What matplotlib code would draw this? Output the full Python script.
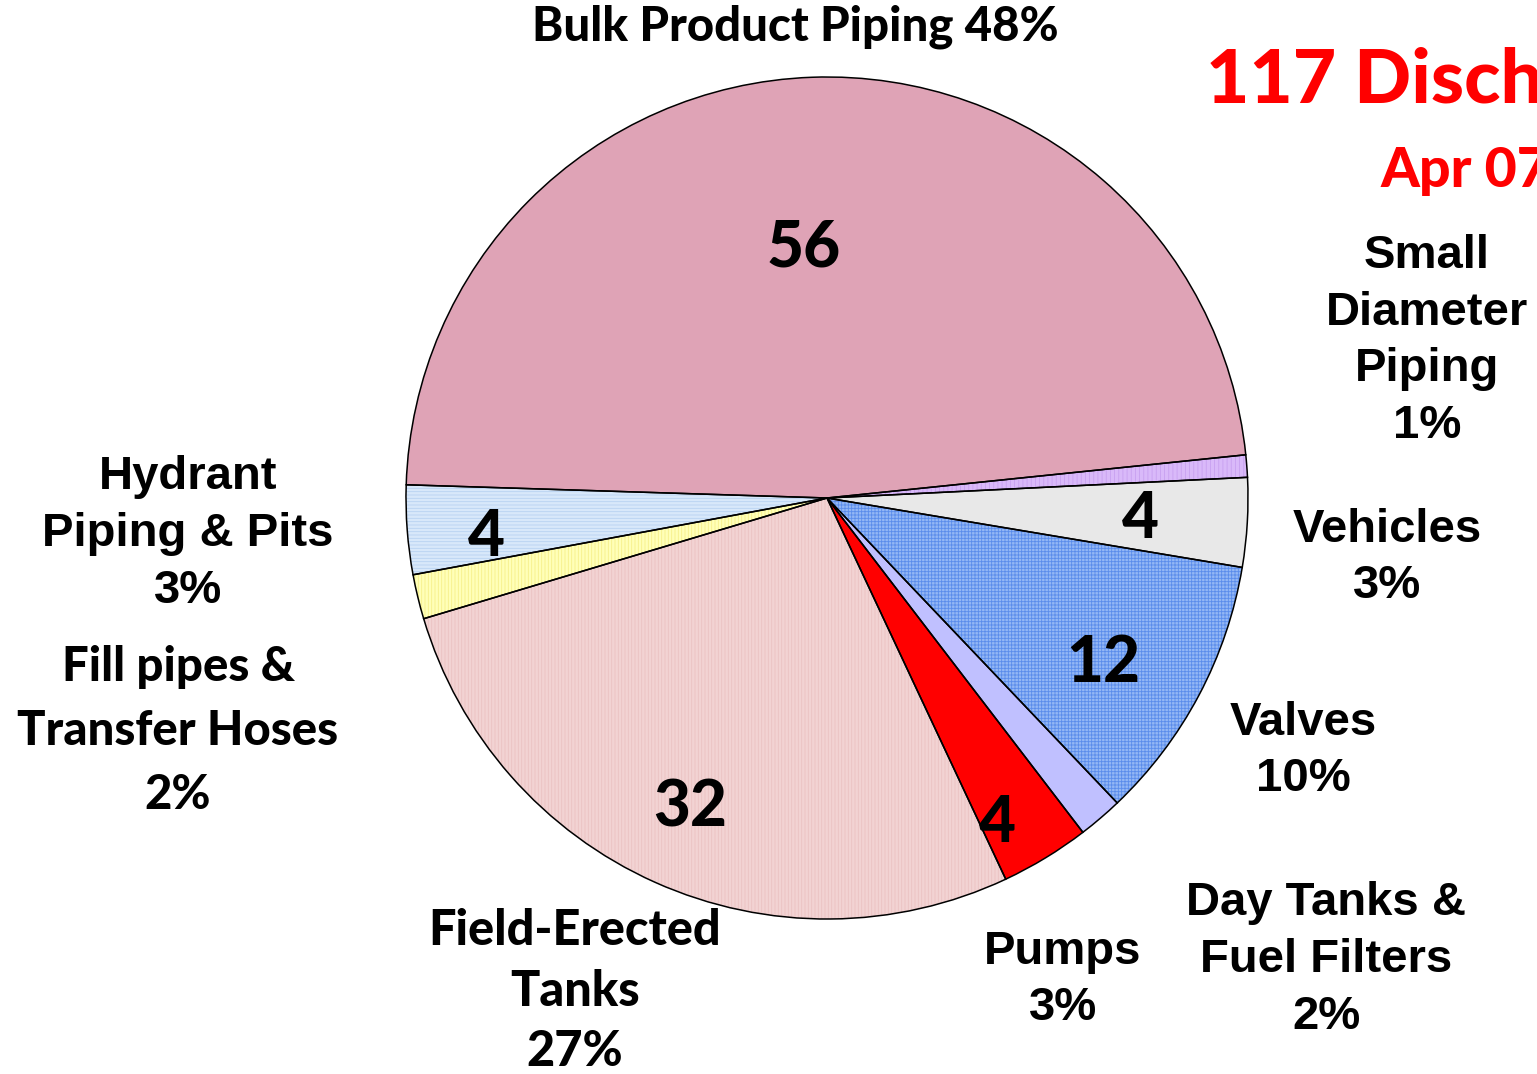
import matplotlib.pyplot as plt

# ----------------------------------
# Data
# ----------------------------------

categories = [
    "Bulk Product Piping",
    "Small Diameter Piping",
    "Vehicles",
    "Valves",
    "Day Tanks & Fuel Filters",
    "Pumps",
    "Field-Erected Tanks",
    "Fill pipes & Transfer Hoses",
    "Hydrant Piping & Pits",
]
counts = [56, 1, 4, 12, 2, 4, 32, 2, 4]
percents = [48, 1, 3, 10, 2, 3, 27, 2, 3]

fill_colors = ["#DFA3B6", "#D9B9F9", "#E8E8E8", "#93B7F5", "#C0C0FF",
               "#FF0000", "#F2D3D3", "#FFFFB8", "#D8E8FA"]
hatch_colors = ["#D995AB", "#C8A0F0", "#E2E2E2", "#5A8CEB", "#C0C0FF",
                "#FF0000", "#EBC2C2", "#F7F08A", "#B8D2F2"]
hatches = ["", "||||", "", "+++++", "", "", "|||||", "|||||", "-----"]

CALIBRI = ["Lato", "DejaVu Sans"]
ARIAL = ["Liberation Sans", "DejaVu Sans"]

W, H = 1537, 1074

plt.rcParams["hatch.linewidth"] = 0.6

fig = plt.figure(figsize=(W / 100, H / 100), dpi=100)
ax = fig.add_axes([0, 0, 1, 1])

center = (827, H - 498)
radius = 421

# fill + hatch pass
wedges, _ = ax.pie(
    counts, colors=fill_colors, startangle=178.2, counterclock=False,
    center=center, radius=radius, frame=True,
    wedgeprops=dict(linewidth=0),
)
for w, hc, ht in zip(wedges, hatch_colors, hatches):
    w.set_edgecolor(hc)
    w.set_linewidth(0)
    w.set_hatch(ht)

# outline pass
ax.pie(
    counts, startangle=178.2, counterclock=False,
    center=center, radius=radius, frame=True,
    wedgeprops=dict(fill=False, edgecolor="black", linewidth=1.1),
)
ax.set_xlim(0, W)
ax.set_ylim(0, H)
ax.set_aspect("equal")
ax.axis("off")


def put(x, y, s, size, fam, color="black", ls=1.2, ha="center",
        weight="black"):
    ax.text(x, H - y, s, fontsize=size, family=fam, fontweight=weight,
            color=color, ha=ha, va="center", linespacing=ls)


# counts inside the wedges
number_pos = {0: (804, 248), 2: (1140, 520), 3: (1103, 663),
              5: (997, 823), 6: (690, 808), 8: (486, 538)}
for i, (x, y) in number_pos.items():
    put(x, y, str(counts[i]), 46, CALIBRI)

# outside labels
put(795, 27, f"{categories[0]} {percents[0]}%", 34, CALIBRI)
put(1427, 341, f"Small\nDiameter\nPiping\n{percents[1]}%", 34, ARIAL,
    ls=1.38, weight="bold")
put(1387, 558, f"Vehicles\n{percents[2]}%", 34, ARIAL, ls=1.38, weight="bold")
put(1303, 751, f"Valves\n{percents[3]}%", 34, ARIAL, ls=1.38, weight="bold")
put(1326, 960, f"Day Tanks &\nFuel Filters\n{percents[4]}%", 34, ARIAL,
    ls=1.38, weight="bold")
put(1063, 980, f"Pumps\n{percents[5]}%", 34, ARIAL, ls=1.38, weight="bold")
put(575, 991, f"Field-Erected\nTanks\n{percents[6]}%", 35, CALIBRI, ls=1.43)
put(178, 731, f"Fill pipes &\nTransfer Hoses\n{percents[7]}%", 34, CALIBRI,
    ls=1.55)
put(188, 534, f"Hydrant\nPiping & Pits\n{percents[8]}%", 34, ARIAL,
    ls=1.38, weight="bold")

# title, running off the right edge as in the original slide
put(1206, 81, f"{sum(counts)} Disch", 54, CALIBRI, color="#FF0000", ha="left")
put(1380, 171, "Apr 07", 40, CALIBRI, color="#FF0000", ha="left")

fig.savefig("out.png", dpi=100)
